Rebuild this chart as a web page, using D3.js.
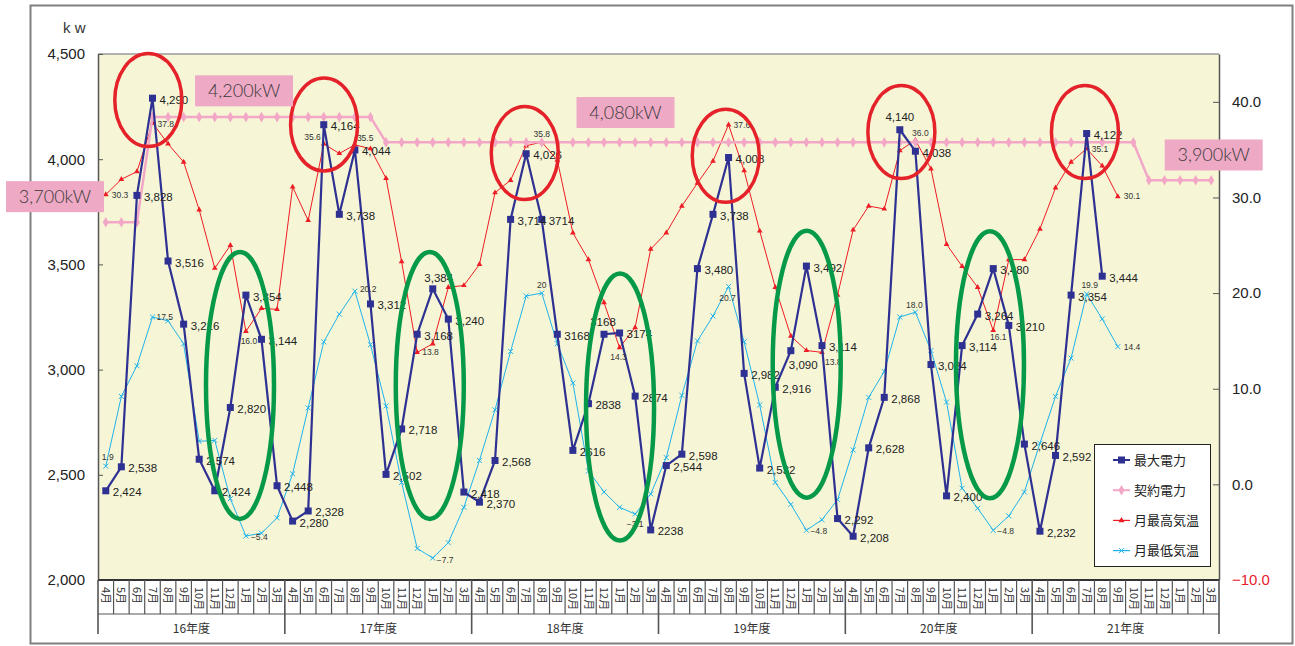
<!DOCTYPE html>
<html><head><meta charset="utf-8">
<script src="https://cdn.jsdelivr.net/npm/d3@7"></script>
<style>
body{margin:0;background:#fff;}
svg{display:block;}
text{font-family:"Liberation Sans",Arial,"Noto Sans CJK JP",sans-serif;}
.jp{font-family:"Noto Sans CJK JP","Liberation Sans",sans-serif;}
.box{font-family:"Lato","Open Sans","Liberation Sans",sans-serif;font-weight:300;}
</style></head><body>
<svg id="c" width="1295" height="646"></svg>
<script>
// ---------------- DATA ----------------
const fiscalYears = ["16年度","17年度","18年度","19年度","20年度","21年度"];
const monthNames = ["4月","5月","6月","7月","8月","9月","10月","11月","12月","1月","2月","3月"];

// 最大電力 (kW), 16年度4月 → 21年度8月
const maxPower = [
  2424,2538,3828,4290,3516,3216,2574,2424,2820,3354,3144,2448,
  2280,2328,4164,3738,4044,3312,2502,2718,3168,3384,3240,2418,
  2370,2568,3714,4026,3714,3168,2616,2838,3168,3174,2874,2238,
  2544,2598,3480,3738,4008,2982,2532,2916,3090,3492,3114,2292,
  2208,2628,2868,4140,4038,3024,2400,3114,3264,3480,3210,2646,
  2232,2592,3354,4122,3444
];
const maxPowerLabels = [
  "2,424","2,538","3,828","4,290","3,516","3,216","2,574","2,424","2,820","3,354","3,144","2,448",
  "2,280","2,328","4,164","3,738","4,044","3,312","2,502","2,718","3,168","3,384","3,240","2,418",
  "2,370","2,568","3,714","4,026","3714","3168","2616","2838","3168","3174","2874","2238",
  "2,544","2,598","3,480","3,738","4,008","2,982","2,532","2,916","3,090","3,492","3,114","2,292",
  "2,208","2,628","2,868","4,140","4,038","3,024","2,400","3,114","3,264","3,480","3,210","2,646",
  "2,232","2,592","3,354","4,122","3,444"
];
// 契約電力 (kW)
const contractPower = [
  3700,3700,3700,4200,4200,4200,4200,4200,4200,4200,4200,4200,
  4200,4200,4200,4200,4200,4200,4080,4080,4080,4080,4080,4080,
  4080,4080,4080,4080,4080,4080,4080,4080,4080,4080,4080,4080,
  4080,4080,4080,4080,4080,4080,4080,4080,4080,4080,4080,4080,
  4080,4080,4080,4080,4080,4080,4080,4080,4080,4080,4080,4080,
  4080,4080,4080,4080,4080,4080,4080,3900,3900,3900,3900,3900
];
// 月最高気温 (℃), 16年度4月 → 21年度9月
const maxTemp = [
  30.3,31.9,32.7,37.8,35.6,33.7,28.7,22.6,25.0,16.0,18.4,18.3,
  31.1,27.6,35.6,34.6,35.5,35.1,32.0,23.3,13.8,14.7,20.6,20.8,
  23.0,30.5,31.8,35.4,35.8,33.9,26.3,23.5,19.0,14.3,16.4,24.6,
  26.3,29.1,31.5,33.8,37.6,32.8,26.5,20.6,15.5,14.0,13.8,19.8,
  26.6,29.1,28.8,34.9,36.0,33.0,25.1,22.8,20.6,16.1,23.5,23.5,
  26.7,31.0,33.7,35.1,33.3,30.1
];
// 月最低気温 (℃)
const minTemp = [
  1.9,9.2,12.4,17.5,17.1,14.7,4.5,4.6,-1.5,-5.4,-5.1,-3.5,
  1.1,8.0,14.9,17.8,20.2,14.6,8.2,0.2,-6.7,-7.7,-6.1,-2.4,
  2.5,7.8,13.9,19.7,20.0,14.7,10.6,1.4,-0.8,-2.4,-3.1,-1.0,
  2.8,9.3,15.0,17.6,20.7,14.9,8.3,0.2,-2.1,-4.8,-3.7,-1.6,
  3.6,9.1,11.8,17.5,18.0,14.0,8.6,-0.4,-2.5,-4.8,-3.3,-0.8,
  4.3,9.2,13.2,19.9,17.3,14.4
];
const leftTicks = [2000,2500,3000,3500,4000,4500];
const rightTicks = [-10,0,10,20,30,40];
const seriesNames = ["最大電力","契約電力","月最高気温","月最低気温"];

// value labels on temperature points: [index, text]
const maxTempNotes = [[0,"30.3"],[3,"37.8"],[9,"16.0"],[14,"35.6"],[16,"35.5"],[20,"13.8"],[28,"35.8"],[33,"14.3"],[40,"37.6"],[46,"13.8"],[52,"36.0"],[57,"16.1"],[63,"35.1"],[65,"30.1"]];
const minTempNotes = [[0,"1.9"],[3,"17.5"],[9,"−5.4"],[16,"20.2"],[21,"−7.7"],[28,"20"],[34,"−3.1"],[40,"20.7"],[45,"−4.8"],[52,"18.0"],[57,"−4.8"],[63,"19.9"],[65,"14.4"]];
// contract power callouts: [value, month position, kW position]
const contractCallouts = [[3700,-3.26,3822],[4200,8.88,4325],[4080,33.38,4222],[3900,71.16,4020]];
// highlight ellipses: [month position, kW position]
const peakCircles = [[2.73,4281],[14.02,4165],[26.91,4029],[39.82,4016],[51.10,4129],[62.89,4129]];
const winterCircles = [[8.62,2925],[20.81,2925],[33.03,2822],[45.02,3026],[56.79,3023]];

// ---------------- LAYOUT ----------------
const C = {navy:"#2E3192", pink:"#F2A7C6", red:"#EE1C24", cyan:"#1FB3EC", bg:"#F6F6D6", box:"#EEA9C5"};
const L = 98, R = 1219, T = 54, B = 580;
const svg = d3.select("#c");
const months = d3.range(fiscalYears.length*12);
const x = d3.scaleBand().domain(months).range([L,R]).padding(0);
const bw = x.bandwidth();
const cx = i => x(0) + bw*(i+0.5);
const yL = d3.scaleLinear().domain([2000,4500]).range([B,T]);
const yR = d3.scaleLinear().domain([-10,45]).range([B,T]);

// outer frame
svg.append("rect").attr("x",30.5).attr("y",5.5).attr("width",1262).attr("height",638)
  .attr("fill","#fff").attr("stroke","#808080").attr("stroke-width",2);
// plot bg
svg.append("rect").attr("x",L).attr("y",T).attr("width",R-L).attr("height",B-T).attr("fill",C.bg);
svg.append("line").attr("x1",L).attr("x2",R).attr("y1",T).attr("y2",T).attr("stroke","#9a9a9a").attr("stroke-width",1.5);

// axes
const ax = svg.append("g").attr("transform",`translate(${L},0)`)
  .call(d3.axisLeft(yL).tickValues(leftTicks).tickFormat(d3.format(",")).tickSizeInner(-5).tickSizeOuter(0).tickPadding(13));
const ax2 = svg.append("g").attr("transform",`translate(${R},0)`)
  .call(d3.axisRight(yR).tickValues(rightTicks).tickFormat(d3.format(".1f")).tickSizeInner(-6).tickSizeOuter(0).tickPadding(13));
[ax,ax2].forEach(g=>{
  g.selectAll("text").attr("font-size",15).attr("fill","#222");
  g.select(".domain").attr("stroke","#555").attr("stroke-width",1.5);
  g.selectAll(".tick line").attr("stroke","#555");
});
ax2.selectAll(".tick text").filter(d=>d<0).attr("fill","#E8202A");
svg.append("text").attr("x",63).attr("y",33).attr("font-size",15).attr("fill","#333").text("k w");

// x axis (month/year grid)
const xa = svg.append("g");
xa.append("line").attr("x1",L).attr("x2",R).attr("y1",B).attr("y2",B).attr("stroke","#333").attr("stroke-width",2);
xa.append("line").attr("x1",L).attr("x2",R).attr("y1",614).attr("y2",614).attr("stroke","#555").attr("stroke-width",1.2);
xa.selectAll("line.sep").data(d3.range(months.length+1)).join("line").attr("class","sep")
  .attr("x1",i=>x(0)+i*bw).attr("x2",i=>x(0)+i*bw)
  .attr("y1",B).attr("y2",i=>i%12===0?634:614)
  .attr("stroke","#555").attr("stroke-width",i=>i%12===0?1.6:1.2);
xa.selectAll("text.m").data(months).join("text").attr("class","m jp")
  .attr("transform",i=>`translate(${cx(i)},587) rotate(90)`)
  .attr("dy","0.35em").attr("font-size",11).attr("fill","#333")
  .text(i=>monthNames[i%12]);
xa.selectAll("text.y").data(fiscalYears).join("text").attr("class","y jp")
  .attr("x",(d,k)=>cx(k*12+5.5)).attr("y",633).attr("text-anchor","middle")
  .attr("font-size",12).attr("fill","#333").text(d=>d);

// series
const g = svg.append("g");
// min temp
g.append("path").datum(minTemp).attr("fill","none").attr("stroke",C.cyan).attr("stroke-width",1)
  .attr("d",d3.line().x((d,i)=>cx(i)).y(d=>yR(d)));
g.selectAll("path.mn").data(minTemp).join("path").attr("class","mn")
  .attr("transform",(d,i)=>`translate(${cx(i)},${yR(d)})`)
  .attr("d",d3.symbol(d3.symbolTimes,18)).attr("fill","none").attr("stroke",C.cyan).attr("stroke-width",1);
// max temp
g.append("path").datum(maxTemp).attr("fill","none").attr("stroke",C.red).attr("stroke-width",1)
  .attr("d",d3.line().x((d,i)=>cx(i)).y(d=>yR(d)));
g.selectAll("path.mx").data(maxTemp).join("path").attr("class","mx")
  .attr("transform",(d,i)=>`translate(${cx(i)},${yR(d)})`)
  .attr("d",d3.symbol(d3.symbolTriangle,14)).attr("fill",C.red);
// contract
g.append("path").datum(contractPower).attr("fill","none").attr("stroke",C.pink).attr("stroke-width",2.5)
  .attr("d",d3.line().x((d,i)=>cx(i)).y(d=>yL(d)));
g.selectAll("path.ct").data(contractPower).join("path").attr("class","ct")
  .attr("transform",(d,i)=>`translate(${cx(i)},${yL(d)})`)
  .attr("d",d3.symbol(d3.symbolDiamond,32)).attr("fill",C.pink);
// max power
g.append("path").datum(maxPower).attr("fill","none").attr("stroke",C.navy).attr("stroke-width",2.2)
  .attr("d",d3.line().x((d,i)=>cx(i)).y(d=>yL(d)));
g.selectAll("rect.pw").data(maxPower).join("rect").attr("class","pw")
  .attr("x",(d,i)=>cx(i)-3.5).attr("y",d=>yL(d)-3.5).attr("width",7).attr("height",7).attr("fill",C.navy);

// power labels
const abovePos = {21:[6,-7],32:[-1,-8],51:[0,-9]};
const belowPos = {44:[-2,18]};
g.selectAll("text.pl").data(maxPower).join("text").attr("class","pl")
  .attr("x",(d,i)=>cx(i)+(abovePos[i]?abovePos[i][0]:belowPos[i]?belowPos[i][0]:7))
  .attr("y",(d,i)=>yL(d)+(abovePos[i]?abovePos[i][1]:belowPos[i]?belowPos[i][1]:5.5))
  .attr("text-anchor",(d,i)=>abovePos[i]?"middle":"start")
  .attr("font-size",11.5).attr("fill","#222").text((d,i)=>maxPowerLabels[i]);

// temperature labels (placement: [dx, dy, anchor])
const maxPlace = {0:[6,3,"start"],3:[5,4,"start"],9:[3,13,"middle"],14:[-3,-4,"end"],16:[2,-4,"start"],20:[5,3,"start"],28:[0,-5,"middle"],33:[-1,12,"middle"],40:[5,3,"start"],46:[3,13,"start"],52:[5,-4,"middle"],57:[5,10,"middle"],63:[5,3,"start"],65:[6,3,"start"]};
const minPlace = {0:[2,-6,"middle"],3:[4,3,"start"],9:[5,4,"start"],16:[5,1,"start"],21:[4,5,"start"],28:[0,-5,"middle"],34:[0,13,"middle"],40:[-1,15,"middle"],45:[4,4,"start"],52:[-1,-4,"middle"],57:[4,4,"start"],63:[3,-6,"middle"],65:[6,3,"start"]};
function notes(list, arr, place){
  g.selectAll(null).data(list).join("text")
    .attr("x",d=>cx(d[0])+place[d[0]][0]).attr("y",d=>yR(arr[d[0]])+place[d[0]][1])
    .attr("text-anchor",d=>place[d[0]][2]).attr("font-size",8.5).attr("fill","#333").text(d=>d[1]);
}
notes(maxTempNotes,maxTemp,maxPlace);
notes(minTempNotes,minTemp,minPlace);

// ellipses
const xm = m => x(0)+bw*(m+0.5);
svg.selectAll("ellipse.pk").data(peakCircles).join("ellipse").attr("class","pk")
  .attr("cx",d=>xm(d[0])).attr("cy",d=>yL(d[1])).attr("rx",33.5).attr("ry",46.5)
  .attr("fill","none").attr("stroke","#E5222A").attr("stroke-width",3.5);
svg.selectAll("ellipse.wn").data(winterCircles).join("ellipse").attr("class","wn")
  .attr("cx",d=>xm(d[0])).attr("cy",d=>yL(d[1])).attr("rx",34).attr("ry",133.5)
  .attr("fill","none").attr("stroke","#07994A").attr("stroke-width",4.5);

// contract callout boxes
const cb = svg.selectAll("g.cb").data(contractCallouts).join("g").attr("class","cb")
  .attr("transform",d=>`translate(${xm(d[1])},${yL(d[2])})`);
cb.append("rect").attr("x",-49).attr("y",-15.5).attr("width",98).attr("height",31).attr("fill",C.box);
cb.append("text").attr("class","box").attr("text-anchor","middle").attr("dy","0.36em").attr("font-size",18).attr("fill","#3a3a3a")
  .text(d=>d3.format(",")(d[0])+"kW");

// legend
const lg = svg.append("g").attr("transform","translate(1094,444)");
lg.append("rect").attr("x",0.5).attr("y",0.5).attr("width",116).attr("height",122).attr("fill","#fff").attr("stroke","#222").attr("stroke-width",1);
const lcol = [C.navy,C.pink,C.red,C.cyan];
seriesNames.forEach((n,k)=>{
  const yy = 16+k*30.2;
  const it = lg.append("g").attr("transform",`translate(0,${yy})`);
  it.append("line").attr("x1",19).attr("x2",36).attr("stroke",lcol[k]).attr("stroke-width",k<2?2:1.2);
  if(k===0) it.append("rect").attr("x",24).attr("y",-3.5).attr("width",7).attr("height",7).attr("fill",C.navy);
  if(k===1) it.append("path").attr("transform","translate(27.5,0)").attr("d",d3.symbol(d3.symbolDiamond,32)).attr("fill",C.pink);
  if(k===2) it.append("path").attr("transform","translate(27.5,0)").attr("d",d3.symbol(d3.symbolTriangle,16)).attr("fill",C.red);
  if(k===3) it.append("path").attr("transform","translate(27.5,0)").attr("d",d3.symbol(d3.symbolTimes,18)).attr("fill","none").attr("stroke",C.cyan);
  it.append("text").attr("class","jp").attr("x",40).attr("dy","0.35em").attr("font-size",13).attr("fill","#222").text(n);
});
</script>
</body></html>
